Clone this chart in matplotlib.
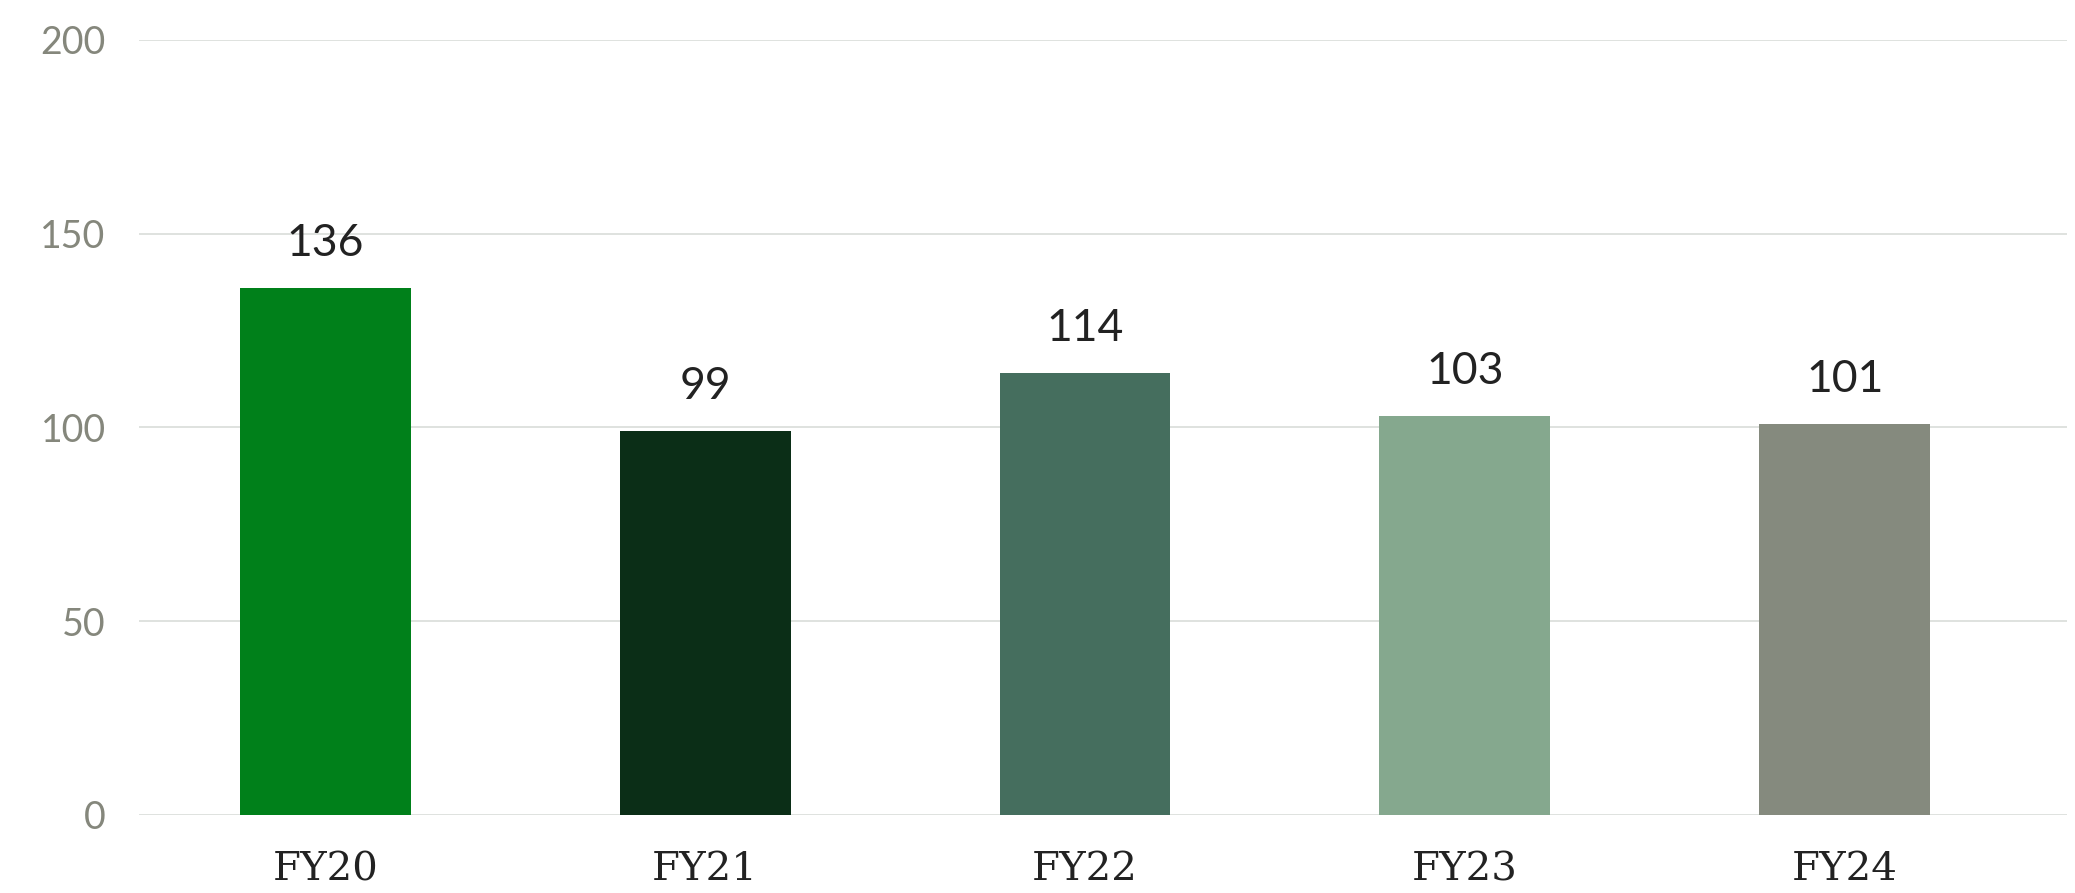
import matplotlib
matplotlib.use("Agg")
import matplotlib.pyplot as plt

# chart data
years = ["FY20", "FY21", "FY22", "FY23", "FY24"]
values = [136, 99, 114, 103, 101]
bar_colors = ["#00801a", "#0b2e17", "#456e5e", "#85a88e", "#858a7e"]
y_ticks = [0, 50, 100, 150, 200]

fig = plt.figure(figsize=(20.75, 8.93), dpi=100)
ax = fig.add_axes([0.067, 0.0874, 0.929, 0.868])

x = range(len(years))
ax.bar(x, values, width=0.45, color=bar_colors, zorder=2)

# value labels above bars
for xi, v in zip(x, values):
    ax.annotate(str(v), (xi, v), xytext=(0, 23), textcoords="offset points",
                ha="center", va="baseline", fontsize=32, color="#222222",
                family="Lato")

ax.set_xlim(-0.49, 4.584)
ax.set_ylim(0, 200)
ax.set_yticks(y_ticks)
ax.set_yticklabels([str(t) for t in y_ticks], family="Lato", fontsize=27,
                   color="#85877c")
ax.set_xticks(list(x))
ax.set_xticklabels(years, family="DejaVu Serif", fontsize=29, color="#222222")

ax.grid(axis="y", color="#dcdfdc", linewidth=1.3, zorder=0)
ax.tick_params(axis="y", length=0, pad=24)
ax.tick_params(axis="x", length=0, pad=26)
for side in ["top", "right", "left", "bottom"]:
    ax.spines[side].set_visible(False)

fig.savefig("out.png", dpi=100, facecolor="white")
